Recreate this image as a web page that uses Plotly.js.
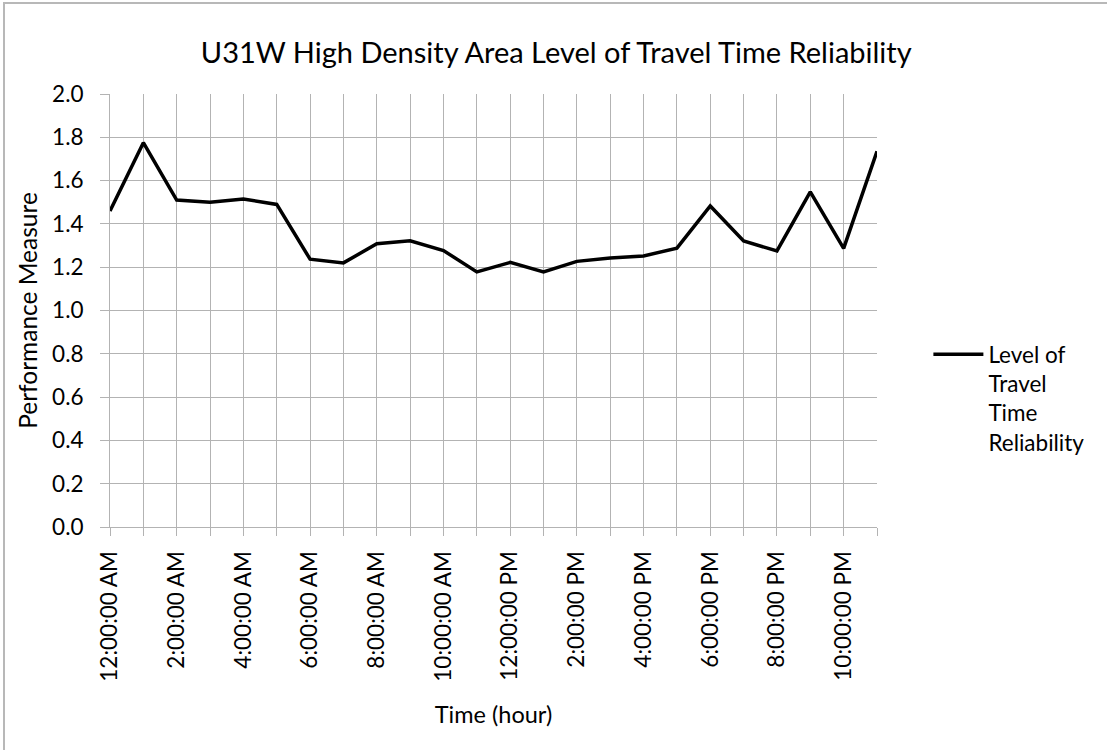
<!DOCTYPE html>
<html>
<head>
<meta charset="utf-8">
<script src="https://cdn.plot.ly/plotly-3.0.1.min.js"></script>
<style>
  html, body { margin: 0; padding: 0; background: #fff; overflow: hidden; }
  #wrap { position: relative; width: 1107px; height: 750px; overflow: hidden; }
  #chart { width: 1107px; height: 750px; }
  #frame { position: absolute; left: 3px; top: 2px; width: 1300px; height: 1000px;
           border-left: 2px solid #b8b8b8; border-top: 2px solid #b8b8b8; pointer-events: none; }
</style>
</head>
<body>
<div id="wrap">
  <div id="chart"></div>
  <div id="frame"></div>
</div>
<script>
// Categories: hours of the day
const hourLabels = [
  "12:00:00 AM", "1:00:00 AM", "2:00:00 AM", "3:00:00 AM", "4:00:00 AM", "5:00:00 AM",
  "6:00:00 AM", "7:00:00 AM", "8:00:00 AM", "9:00:00 AM", "10:00:00 AM", "11:00:00 AM",
  "12:00:00 PM", "1:00:00 PM", "2:00:00 PM", "3:00:00 PM", "4:00:00 PM", "5:00:00 PM",
  "6:00:00 PM", "7:00:00 PM", "8:00:00 PM", "9:00:00 PM", "10:00:00 PM", "11:00:00 PM"
];
// Level of Travel Time Reliability values
const reliability = [
  1.46, 1.775, 1.51, 1.50, 1.515, 1.49,
  1.237, 1.22, 1.308, 1.322, 1.277, 1.178,
  1.222, 1.178, 1.227, 1.243, 1.252, 1.288,
  1.483, 1.321, 1.275, 1.548, 1.287, 1.735
];
const yTickVals = [0, 0.2, 0.4, 0.6, 0.8, 1.0, 1.2, 1.4, 1.6, 1.8, 2.0];
const yTickText = ["0.0", "0.2", "0.4", "0.6", "0.8", "1.0", "1.2", "1.4", "1.6", "1.8", "2.0"];

const xIdx = hourLabels.map((_, i) => i);
const xTickText = hourLabels.map((t, i) => (i % 2 === 0 ? t : ""));

const FONT = "Lato, 'Open Sans', sans-serif";

const trace = {
  x: xIdx,
  y: reliability,
  type: "scatter",
  mode: "lines",
  name: "Level of<br>Travel<br>Time<br>Reliability",
  line: { color: "#000000", width: 3.5 },
  hoverinfo: "skip"
};

const layout = {
  width: 1107,
  height: 750,
  paper_bgcolor: "#ffffff",
  plot_bgcolor: "#ffffff",
  margin: { l: 110, r: 230.33, t: 94, b: 223, pad: 0 },
  font: { family: FONT, size: 22, color: "#000000" },
  title: {
    text: "U31W High Density Area Level of Travel Time Reliability",
    font: { family: FONT, size: 29, color: "#000000" },
    x: 0.5025, xref: "container", xanchor: "center",
    y: 0.93, yref: "container", yanchor: "middle"
  },
  xaxis: {
    range: [0, 23],
    tickmode: "array",
    tickvals: xIdx,
    ticktext: xTickText,
    tickangle: -90,
    ticks: "outside",
    ticklen: 8,
    tickcolor: "#b3b3b3",
    tickwidth: 1,
    ticklabelstandoff: 6,
    showgrid: true,
    gridcolor: "#b3b3b3",
    gridwidth: 1,
    showline: true,
    linecolor: "#b3b3b3",
    linewidth: 1,
    zeroline: false,
    tickfont: { family: FONT, size: 22.5, color: "#000000" },
    title: { text: "Time (hour)", font: { family: FONT, size: 23.5, color: "#000000" }, standoff: 25 },
    fixedrange: true
  },
  yaxis: {
    range: [0, 2.0],
    tickmode: "array",
    tickvals: yTickVals,
    ticktext: yTickText,
    ticks: "outside",
    ticklen: 9,
    tickcolor: "#b3b3b3",
    tickwidth: 1,
    ticklabelstandoff: 12,
    showgrid: true,
    gridcolor: "#b3b3b3",
    gridwidth: 1,
    showline: true,
    linecolor: "#b3b3b3",
    linewidth: 1,
    zeroline: false,
    tickfont: { family: FONT, size: 22.5, color: "#000000" },
    title: { text: "Performance Measure", font: { family: FONT, size: 24.5, color: "#000000" }, standoff: 7 },
    fixedrange: true
  },
  showlegend: true,
  legend: {
    x: 1.067, xanchor: "left",
    y: 0.448, yanchor: "top",
    valign: "top",
    itemwidth: 50,
    tracegroupgap: 0,
    bgcolor: "rgba(0,0,0,0)",
    font: { family: FONT, size: 22.5, color: "#000000" }
  }
};

Plotly.newPlot("chart", [trace], layout, { displayModeBar: false, staticPlot: true });
</script>
</body>
</html>
